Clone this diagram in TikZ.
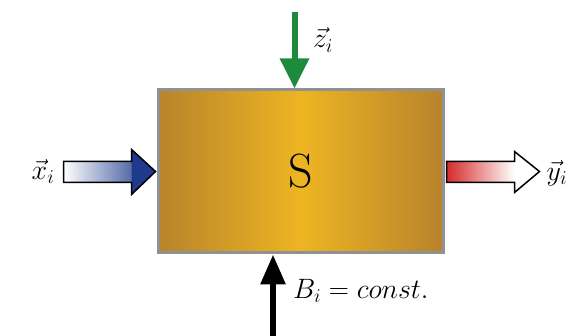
\RequirePackage{fix-cm}
\documentclass[tikz,border=0pt]{standalone}
\usetikzlibrary{arrows.meta,positioning,calc}
\definecolor{gold}{HTML}{EDB522}
\definecolor{goldedge}{HTML}{B8832C}
\definecolor{frame}{HTML}{8E9294}
\definecolor{blueA}{HTML}{1F3A8C}
\definecolor{redA}{HTML}{D42A2A}
\definecolor{greenA}{HTML}{1E8A3C}
\newcommand{\vlab}[1]{$\vec{#1}_{i}$}
\tikzset{
  box/.style={draw=frame, line width=3pt, minimum width=285pt, minimum height=163pt,
    left color=goldedge, right color=goldedge, middle color=gold, inner sep=0pt,
    font=\fontsize{48}{48}\selectfont},
  lbl/.style={font=\fontsize{28}{28}\selectfont, inner sep=1pt},
  blockout/.style={draw=black, line width=1.5pt, line join=miter},
  thinarrow/.style={line width=6pt, -{Triangle[length=30pt,width=28pt]}}
}
\begin{document}
\begin{tikzpicture}[x=1pt,y=-1pt]
\useasboundingbox (0,0) rectangle (576,336);
\node[box] (S) at (300.5,171.5) {S};
% input arrow x
\begin{scope}[shift={(S.west)}]
  \coordinate (xs) at (-93,0);
  \shade[left color=white, right color=blueA!75!white] (-93,-10) rectangle (-25,11);
  \fill[blueA] (-25,-22) -- (-1,0) -- (-25,23) -- cycle;
  \draw[blockout] (-93,-10) -- (-25,-10) -- (-25,-22) -- (-1,0) -- (-25,23) -- (-25,11) -- (-93,11) -- cycle;
\end{scope}
\node[lbl, anchor=east] (xl) at ($(xs)+(-8,0)$) {\vlab{x}};
% output arrow y
\begin{scope}[shift={(S.east)}]
  \coordinate (ye) at (95,0);
  \shade[left color=redA, right color=white] (2,-10) rectangle (70,11);
  \fill[white] (70,-20) -- (95,0) -- (70,21) -- cycle;
  \draw[blockout] (2,-10) -- (70,-10) -- (70,-20) -- (95,0) -- (70,21) -- (70,11) -- (2,11) -- cycle;
\end{scope}
\node[lbl, anchor=west] (yl) at ($(ye)+(6,2)$) {\vlab{y}};
% z arrow
\coordinate (zt) at (294.5,12);
\draw[thinarrow, greenA] (zt) -- (zt |- S.north);
\node[lbl, anchor=west] (zl) at (312,40) {\vlab{z}};
% B arrow
\coordinate (bb) at (273,336);
\draw[thinarrow, black, -{Triangle[length=30pt,width=24pt]}] (bb) -- (bb |- S.south);
\node[lbl, anchor=west] (bl) at (292,291) {$B_i = const.$};
\end{tikzpicture}
\end{document}
